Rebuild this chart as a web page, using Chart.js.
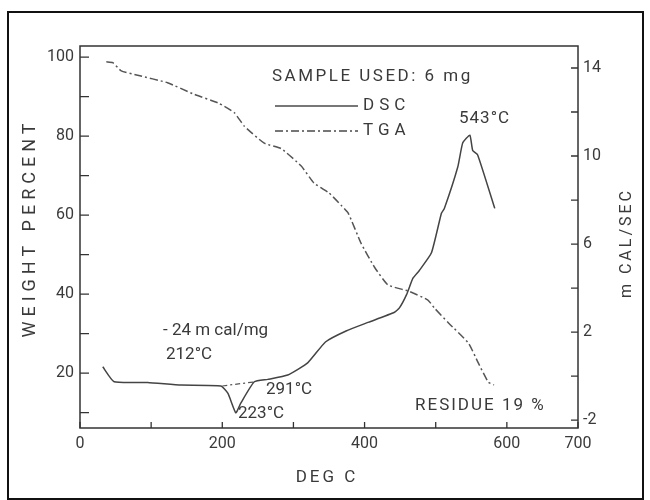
<!DOCTYPE html>
<html>
<head>
<meta charset="utf-8">
<script src="https://cdn.jsdelivr.net/npm/chart.js@4"></script>
<style>
  html, body { margin: 0; padding: 0; background: #fff; }
  #wrap { position: relative; width: 650px; height: 500px; }
  #marco { position: absolute; left: 7px; top: 11px; width: 637px; height: 489px; border: 2px solid #111; box-sizing: border-box; pointer-events: none; }
  canvas { position: absolute; left: 0; top: 0; }
</style>
</head>
<body>
<div id="wrap">
  <canvas id="grafico" width="650" height="500"></canvas>
  <div id="marco"></div>
</div>
<script>
// DSC curve (m cal/sec, right axis)
const dscTemp = [32, 48, 95, 142, 198, 208, 219, 226, 245, 264, 292, 320, 345, 374, 406, 442, 449, 459, 468, 477, 494, 508, 512, 531, 538, 548, 552, 559, 583];
const dscVal = [0.42, -0.26, -0.29, -0.41, -0.45, -0.79, -1.67, -1.23, -0.26, -0.15, 0.05, 0.6, 1.55, 2.05, 2.45, 2.9, 3.1, 3.7, 4.45, 4.8, 5.6, 7.4, 7.6, 9.5, 10.6, 10.95, 10.25, 10.05, 7.62];

// TGA curve (weight percent, left axis)
const tgaTemp = [37, 46, 58, 81, 123, 160, 194, 217, 231, 259, 283, 311, 329, 350, 367, 377, 395, 414, 433, 461, 489, 498, 518, 546, 560, 574, 582];
const tgaVal = [98.8, 98.6, 96.5, 95.4, 93.5, 90.6, 88.4, 85.9, 82.5, 78.2, 76.8, 72.4, 68.1, 65.6, 62.5, 60.5, 52.9, 46.8, 42.3, 40.8, 38.5, 36.5, 32.7, 27.6, 22.5, 17.7, 17.0];

// dashed baseline under the 223 C dip
const baseTemp = [200, 244];
const baseVal = [-0.45, -0.27];

// labelled ticks
const xLabels = [0, 200, 400, 600, 700];
const yLabels = [20, 40, 60, 80, 100];
const y2Labels = [-2, 2, 6, 10, 14];

const tinta = "#3a3a3a";
Chart.defaults.font.family = "Roboto";

function puntos(xs, ys) {
  return xs.map((x, i) => ({ x: x, y: ys[i] }));
}

function texto(ctx, str, x, y, size, spacing, align) {
  ctx.font = size + "px Roboto";
  ctx.letterSpacing = (spacing || 0) + "px";
  ctx.textAlign = align || "left";
  ctx.textBaseline = "middle";
  ctx.fillText(str, x, y);
}

const decoracion = {
  id: "decoracion",
  afterDatasetsDraw(chart) {
    const ctx = chart.ctx;
    const a = chart.chartArea;
    ctx.save();
    ctx.strokeStyle = "#333";
    ctx.lineWidth = 1.5;
    ctx.strokeRect(a.left, a.top, a.right - a.left, a.bottom - a.top);

    // inward tick marks
    ctx.lineWidth = 1.3;
    ctx.beginPath();
    chart.scales.x.ticks.forEach(t => {
      const px = chart.scales.x.getPixelForValue(t.value);
      ctx.moveTo(px, a.bottom); ctx.lineTo(px, a.bottom - 6);
    });
    chart.scales.y.ticks.forEach(t => {
      const py = chart.scales.y.getPixelForValue(t.value);
      ctx.moveTo(a.left, py); ctx.lineTo(a.left + 9, py);
    });
    chart.scales.y2.ticks.forEach(t => {
      const py = chart.scales.y2.getPixelForValue(t.value);
      ctx.moveTo(a.right, py); ctx.lineTo(a.right - 7, py);
    });
    ctx.stroke();

    // legend
    ctx.fillStyle = tinta;
    texto(ctx, "SAMPLE USED: 6 mg", 272, 77, 17, 2.5);
    ctx.strokeStyle = "#4a4a4a";
    ctx.lineWidth = 1.4;
    ctx.beginPath(); ctx.moveTo(275, 106); ctx.lineTo(358, 106); ctx.stroke();
    ctx.setLineDash([8, 3, 2, 3]);
    ctx.beginPath(); ctx.moveTo(275, 131); ctx.lineTo(358, 131); ctx.stroke();
    ctx.setLineDash([]);
    texto(ctx, "DSC", 363, 106, 17, 5);
    texto(ctx, "TGA", 363, 131, 17, 5);

    // annotations
    texto(ctx, "543°C", 459, 119, 17, 1);
    texto(ctx, "- 24 m cal/mg", 163, 331, 17, 0);
    texto(ctx, "212°C", 166, 355, 17, 0);
    texto(ctx, "291°C", 266, 390, 17, 0);
    texto(ctx, "223°C", 238, 414, 17, 0);
    texto(ctx, "RESIDUE 19 %", 415, 406, 17, 2);

    // axis titles
    texto(ctx, "DEG C", 327, 478, 17, 3, "center");
    ctx.save();
    ctx.translate(30, 228);
    ctx.rotate(-Math.PI / 2);
    texto(ctx, "WEIGHT PERCENT", 0, 0, 18, 5, "center");
    ctx.restore();
    ctx.save();
    ctx.translate(627, 243);
    ctx.rotate(-Math.PI / 2);
    texto(ctx, "m CAL/SEC", 0, 0, 16, 3, "center");
    ctx.restore();
    ctx.restore();
  }
};

const tickFont = { family: "Roboto", size: 16 };

new Chart(document.getElementById("grafico"), {
  type: "line",
  data: {
    datasets: [
      {
        label: "DSC",
        data: puntos(dscTemp, dscVal),
        yAxisID: "y2",
        borderColor: "#444",
        borderWidth: 1.5,
        pointRadius: 0,
        tension: 0.15
      },
      {
        label: "TGA",
        data: puntos(tgaTemp, tgaVal),
        yAxisID: "y",
        borderColor: "#555",
        borderWidth: 1.5,
        borderDash: [8, 3, 2, 3],
        pointRadius: 0,
        tension: 0.15
      },
      {
        label: "baseline",
        data: puntos(baseTemp, baseVal),
        yAxisID: "y2",
        borderColor: "#555",
        borderWidth: 1.2,
        borderDash: [5, 3, 2, 3],
        pointRadius: 0
      }
    ]
  },
  options: {
    responsive: false,
    animation: false,
    layout: { padding: { left: 0, right: 0, top: 46, bottom: 0 } },
    plugins: { legend: { display: false }, tooltip: { enabled: false } },
    scales: {
      x: {
        type: "linear",
        min: 0,
        max: 700,
        grid: { display: false, drawTicks: false },
        border: { display: false },
        ticks: {
          stepSize: 100,
          autoSkip: false,
          maxRotation: 0,
          padding: 6,
          color: tinta,
          font: tickFont,
          callback: v => xLabels.includes(v) ? v : ""
        },
        afterFit: s => { s.height = 72; }
      },
      y: {
        position: "left",
        min: 6.1,
        max: 102.8,
        grid: { display: false, drawTicks: false },
        border: { display: false },
        ticks: {
          stepSize: 10,
          includeBounds: false,
          autoSkip: false,
          padding: 6,
          color: tinta,
          font: tickFont,
          callback: v => yLabels.includes(v) ? v : ""
        },
        afterFit: s => { s.width = 80; }
      },
      y2: {
        position: "right",
        min: -2.36,
        max: 15.0,
        grid: { display: false, drawTicks: false },
        border: { display: false },
        ticks: {
          stepSize: 2,
          includeBounds: false,
          autoSkip: false,
          padding: 5,
          color: tinta,
          font: tickFont,
          callback: v => y2Labels.includes(v) ? v : ""
        },
        afterFit: s => { s.width = 72; }
      }
    }
  },
  plugins: [decoracion]
});
</script>
</body>
</html>
